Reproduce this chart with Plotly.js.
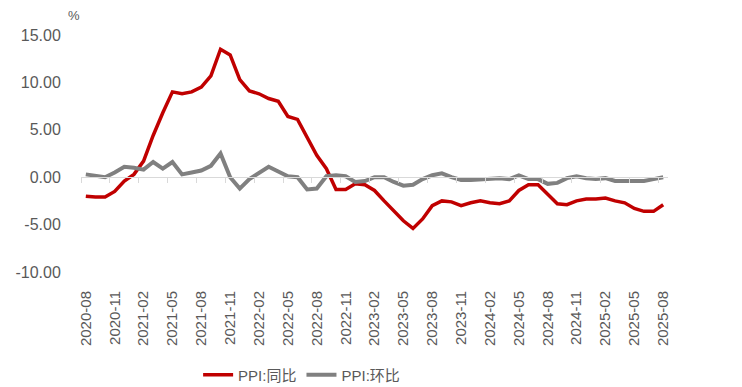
<!DOCTYPE html>
<html><head><meta charset="utf-8">
<script src="https://cdn.plot.ly/plotly-3.0.1.min.js"></script>
<style>html,body{margin:0;padding:0;background:#fff}#c{width:742px;height:387px}</style>
</head><body><div id="c"></div>
<script>
const months = [];
(function(){ let y=2020,m=8; for(let i=0;i<61;i++){ months.push(y+'-'+String(m).padStart(2,'0')); m++; if(m>12){m=1;y++;} } })();
const ppiYoY = [-2.0,-2.1,-2.1,-1.5,-0.4,
 0.3,1.7,4.4,6.8,9.0,8.8,9.0,9.5,10.7,13.5,12.9,10.3,
 9.1,8.8,8.3,8.0,6.4,6.1,4.2,2.3,0.9,-1.3,-1.3,-0.7,
 -0.8,-1.4,-2.5,-3.6,-4.6,-5.4,-4.4,-3.0,-2.5,-2.6,-3.0,-2.7,
 -2.5,-2.7,-2.8,-2.5,-1.4,-0.8,-0.8,-1.8,-2.8,-2.9,-2.5,-2.3,
 -2.3,-2.2,-2.5,-2.7,-3.3,-3.6,-3.6,-2.9];
const ppiMoM = [0.3,0.1,0.0,0.5,1.1,
 1.0,0.8,1.6,0.9,1.6,0.3,0.5,0.7,1.2,2.5,0.0,-1.2,
 -0.2,0.5,1.1,0.6,0.1,0.0,-1.3,-1.2,0.1,0.2,0.1,-0.5,
 -0.4,0.0,0.0,-0.5,-0.9,-0.8,-0.2,0.2,0.4,0.0,-0.3,-0.3,
 -0.2,-0.2,-0.1,-0.2,0.2,-0.2,-0.2,-0.7,-0.6,-0.1,0.1,-0.1,
 -0.2,-0.1,-0.4,-0.4,-0.4,-0.4,-0.2,0.0];
const yTicks = [-10,-5,0,5,10,15];
const yTickText = ['-10.00','-5.00','0.00','5.00','10.00','15.00'];
const seriesNames = ['PPI:同比','PPI:环比'];

const idx = months.map((_,i)=>i);
const labelIdx = idx.filter(i=>i%3===0);
const labelText = labelIdx.map(i=>months[i]);
const boundTicks = []; for(let i=-0.5;i<=61;i+=3) boundTicks.push(i);

const FONT = 'Liberation Sans, Noto Sans CJK SC, sans-serif';
const data = [
 {x: idx, y: ppiYoY, name: seriesNames[0], type:'scatter', mode:'lines', line:{color:'#C00000', width:3.5}},
 {x: idx, y: ppiMoM, name: seriesNames[1], type:'scatter', mode:'lines', line:{color:'#808080', width:4}},
 {x: [0], y:[0], xaxis:'x2', showlegend:false, mode:'none', hoverinfo:'skip'}
];
const layout = {
 width:742, height:387,
 margin:{l:81, r:74, t:35, b:115},
 paper_bgcolor:'#fff', plot_bgcolor:'#fff',
 font:{family:FONT, color:'#595959'},
 showlegend:true,
 legend:{orientation:'h', xref:'container', yref:'container', x:0.267, xanchor:'left', y:0.031, yanchor:'middle',
   font:{size:15, color:'#595959'}, itemwidth:30, tracegroupgap:0},
 xaxis:{range:[-0.5,60.5], tickmode:'array', tickvals:labelIdx, ticktext:labelText, tickangle:-90, automargin:false,
   tickfont:{size:15, color:'#595959'}, showgrid:false, zeroline:false, showline:false,
   ticks:'outside', ticklen:12, tickcolor:'rgba(0,0,0,0)'},
 xaxis2:{overlaying:'x', anchor:'free', position:0.4, range:[-0.5,60.5], matches:'x', automargin:false,
   tickmode:'array', tickvals:boundTicks, showticklabels:false, ticks:'outside', ticklen:5, tickcolor:'#D9D9D9',
   showline:true, linecolor:'#D9D9D9', linewidth:1, showgrid:false, zeroline:false},
 yaxis:{range:[-10,15], tickmode:'array', tickvals:yTicks, ticktext:yTickText, showgrid:false, zeroline:false, automargin:false,
   showline:false, tickfont:{size:16, color:'#595959'}, ticks:'outside', ticklen:16, tickcolor:'rgba(0,0,0,0)'},
 annotations:[{text:'%', xref:'paper', yref:'paper', x:-0.012, y:1.0, yshift:10, yanchor:'bottom', xanchor:'center', showarrow:false, font:{size:13, color:'#595959'}}]
};
Plotly.newPlot('c', data, layout, {staticPlot:true, displayModeBar:false});
</script></body></html>
